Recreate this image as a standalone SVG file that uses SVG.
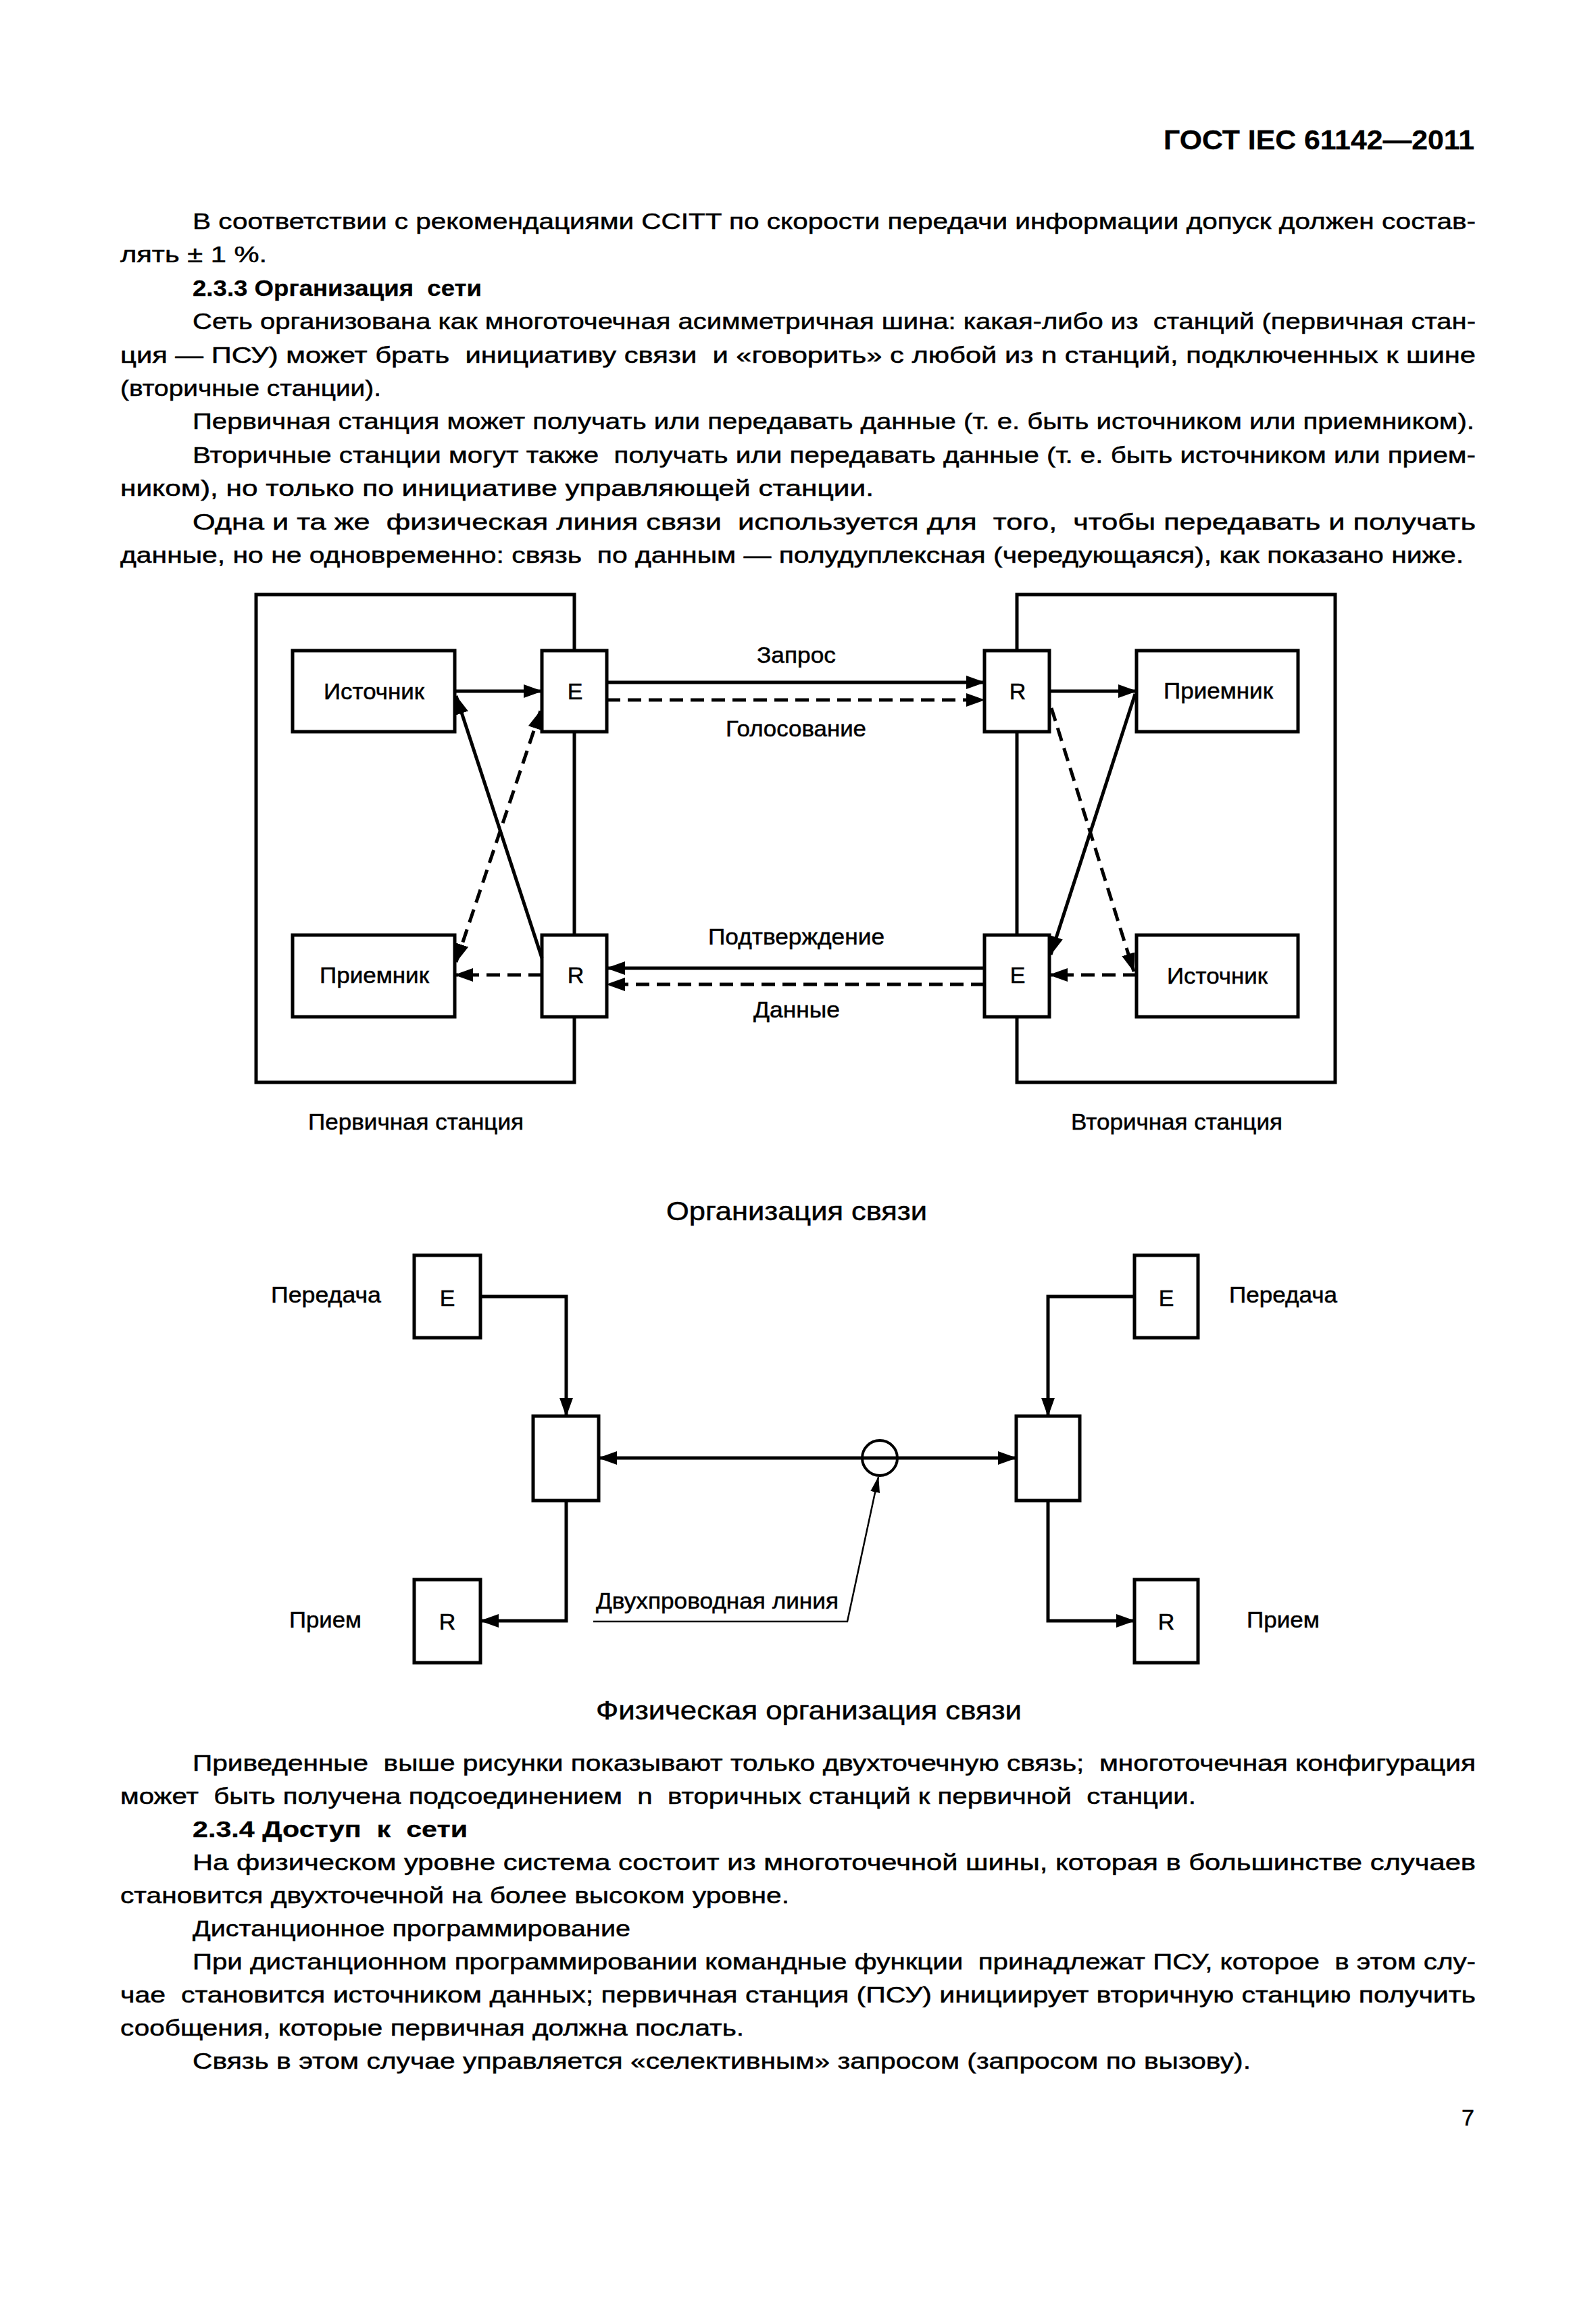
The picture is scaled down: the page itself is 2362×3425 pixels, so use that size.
<svg xmlns="http://www.w3.org/2000/svg" width="2362" height="3425" viewBox="0 0 2362 3425">
<style>
.t{font-family:"Liberation Sans",Arial,sans-serif;font-size:34px;fill:#000;stroke:#000;stroke-width:0.5}
.b{font-weight:bold;stroke-width:0.3}
.c{text-anchor:middle}
.h{font-size:38px}
.box{fill:#fff;stroke:#000;stroke-width:5}
.frame{fill:none;stroke:#000;stroke-width:5}
.ln{fill:none;stroke:#000;stroke-width:5}
.dash{stroke-dasharray:20 11}
.thin{fill:none;stroke:#000;stroke-width:2.5}
</style>
<defs>
<marker id="ah" markerUnits="userSpaceOnUse" markerWidth="28" markerHeight="20" viewBox="0 0 28 20" refX="27" refY="10" orient="auto-start-reverse"><path d="M0,0 L28,10 L0,20 z" fill="#000"/></marker>
<marker id="ahs" markerUnits="userSpaceOnUse" markerWidth="24" markerHeight="14" viewBox="0 0 24 14" refX="23" refY="7" orient="auto"><path d="M0,0 L24,7 L0,14 z" fill="#000"/></marker>
</defs>
<rect width="2362" height="3425" fill="#fff"/>

<g id="page-header">
<text class="t b" x="1722" y="221" style="font-size:40px" textLength="460" lengthAdjust="spacingAndGlyphs">ГОСТ IEC 61142—2011</text>
</g>

<g id="text-top">
<text class="t" x="285" y="339" textLength="1899" lengthAdjust="spacingAndGlyphs">В соответствии с рекомендациями CCITT по скорости передачи информации допуск должен состав-</text>
<text class="t" x="178" y="388" textLength="217" lengthAdjust="spacingAndGlyphs">лять ± 1 %.</text>
<text class="t b" x="285" y="438" textLength="428" lengthAdjust="spacingAndGlyphs" xml:space="preserve">2.3.3 Организация  сети</text>
<text class="t" x="285" y="487" textLength="1899" lengthAdjust="spacingAndGlyphs" xml:space="preserve">Сеть организована как многоточечная асимметричная шина: какая-либо из  станций (первичная стан-</text>
<text class="t" x="178" y="537" textLength="2006" lengthAdjust="spacingAndGlyphs" xml:space="preserve">ция — ПСУ) может брать  инициативу связи  и «говорить» с любой из n станций, подключенных к шине</text>
<text class="t" x="178" y="586" textLength="386" lengthAdjust="spacingAndGlyphs">(вторичные станции).</text>
<text class="t" x="285" y="635" textLength="1897" lengthAdjust="spacingAndGlyphs">Первичная станция может получать или передавать данные (т. е. быть источником или приемником).</text>
<text class="t" x="285" y="685" textLength="1899" lengthAdjust="spacingAndGlyphs" xml:space="preserve">Вторичные станции могут также  получать или передавать данные (т. е. быть источником или прием-</text>
<text class="t" x="178" y="734" textLength="1115" lengthAdjust="spacingAndGlyphs">ником), но только по инициативе управляющей станции.</text>
<text class="t" x="285" y="784" textLength="1899" lengthAdjust="spacingAndGlyphs" xml:space="preserve">Одна и та же  физическая линия связи  используется для  того,  чтобы передавать и получать</text>
<text class="t" x="178" y="833" textLength="1988" lengthAdjust="spacingAndGlyphs" xml:space="preserve">данные, но не одновременно: связь  по данным — полудуплексная (чередующаяся), как показано ниже.</text>
</g>

<g id="diagram-1">
<g id="station-primary"><rect class="frame" x="379" y="880" width="471" height="722"/></g>
<g id="station-secondary"><rect class="frame" x="1505" y="880" width="471" height="722"/></g>

<g id="p-source"><rect class="box" x="433" y="963" width="240" height="120"/><text class="t" x="479" y="1035" textLength="149" lengthAdjust="spacingAndGlyphs">Источник</text></g>
<g id="p-e"><rect class="box" x="802" y="963" width="96" height="120"/><text class="t c" x="851" y="1035">E</text></g>
<g id="p-receiver"><rect class="box" x="433" y="1384" width="240" height="121"/><text class="t" x="473" y="1455" textLength="162" lengthAdjust="spacingAndGlyphs">Приемник</text></g>
<g id="p-r"><rect class="box" x="802" y="1384" width="96" height="121"/><text class="t c" x="852" y="1455">R</text></g>

<g id="s-r"><rect class="box" x="1457" y="963" width="96" height="120"/><text class="t c" x="1506" y="1035">R</text></g>
<g id="s-receiver"><rect class="box" x="1682" y="963" width="239" height="120"/><text class="t" x="1722" y="1034" textLength="162" lengthAdjust="spacingAndGlyphs">Приемник</text></g>
<g id="s-e"><rect class="box" x="1457" y="1384" width="96" height="121"/><text class="t c" x="1506" y="1455">E</text></g>
<g id="s-source"><rect class="box" x="1682" y="1384" width="239" height="121"/><text class="t" x="1727" y="1456" textLength="149" lengthAdjust="spacingAndGlyphs">Источник</text></g>

<g id="connectors-1">
<line class="ln" x1="673" y1="1023" x2="802" y2="1023" marker-end="url(#ah)"/>
<line class="ln" x1="898" y1="1010" x2="1457" y2="1010" marker-end="url(#ah)"/>
<line class="ln dash" x1="898" y1="1036" x2="1457" y2="1036" marker-end="url(#ah)"/>
<line class="ln" x1="1553" y1="1023" x2="1682" y2="1023" marker-end="url(#ah)"/>
<line class="ln" x1="1457" y1="1433" x2="898" y2="1433" marker-end="url(#ah)"/>
<line class="ln dash" x1="1457" y1="1457" x2="898" y2="1457" marker-end="url(#ah)"/>
<line class="ln dash" x1="802" y1="1443" x2="673" y2="1443" marker-end="url(#ah)"/>
<line class="ln dash" x1="1682" y1="1443" x2="1553" y2="1443" marker-end="url(#ah)"/>
<line class="ln" x1="802" y1="1418" x2="675" y2="1030" marker-end="url(#ah)"/>
<line class="ln dash" x1="675" y1="1424" x2="800" y2="1052" marker-start="url(#ah)" marker-end="url(#ah)"/>
<line class="ln" x1="1680" y1="1027" x2="1555" y2="1413" marker-end="url(#ah)"/>
<line class="ln dash" x1="1556" y1="1048" x2="1678" y2="1438" marker-end="url(#ah)"/>
</g>

<g id="labels-1">
<text class="t" x="1120" y="981" textLength="117" lengthAdjust="spacingAndGlyphs">Запрос</text>
<text class="t" x="1074" y="1090" textLength="208" lengthAdjust="spacingAndGlyphs">Голосование</text>
<text class="t" x="1048" y="1398" textLength="261" lengthAdjust="spacingAndGlyphs">Подтверждение</text>
<text class="t" x="1115" y="1506" textLength="128" lengthAdjust="spacingAndGlyphs">Данные</text>
<text class="t" x="456" y="1672" textLength="319" lengthAdjust="spacingAndGlyphs">Первичная станция</text>
<text class="t" x="1585" y="1672" textLength="313" lengthAdjust="spacingAndGlyphs">Вторичная станция</text>
<text class="t h" x="986" y="1806" textLength="386" lengthAdjust="spacingAndGlyphs">Организация связи</text>
</g>
</g>

<g id="diagram-2">
<g id="l-e"><rect class="box" x="613" y="1858" width="98" height="122"/><text class="t c" x="662" y="1933">E</text></g>
<g id="l-r"><rect class="box" x="613" y="2338" width="98" height="123"/><text class="t c" x="662" y="2412">R</text></g>
<g id="l-mid"><rect class="box" x="789" y="2096" width="97" height="125"/></g>
<g id="r-e"><rect class="box" x="1679" y="1858" width="94" height="122"/><text class="t c" x="1726" y="1933">E</text></g>
<g id="r-r"><rect class="box" x="1679" y="2338" width="94" height="123"/><text class="t c" x="1726" y="2412">R</text></g>
<g id="r-mid"><rect class="box" x="1504" y="2096" width="94" height="125"/></g>
<g id="line-node"><circle cx="1302" cy="2158" r="26" fill="none" stroke="#000" stroke-width="4"/></g>

<g id="connectors-2">
<path class="ln" d="M711,1919 H838 V2096" marker-end="url(#ah)"/>
<path class="ln" d="M838,2221 V2399 H711" marker-end="url(#ah)"/>
<path class="ln" d="M1679,1919 H1551 V2096" marker-end="url(#ah)"/>
<path class="ln" d="M1551,2221 V2399 H1679" marker-end="url(#ah)"/>
<line class="ln" x1="886" y1="2158" x2="1504" y2="2158" marker-start="url(#ah)" marker-end="url(#ah)"/>
<path class="thin" d="M878,2400 H1254 L1300,2186" marker-end="url(#ahs)"/>
</g>

<g id="labels-2">
<text class="t" x="401" y="1928" textLength="163" lengthAdjust="spacingAndGlyphs">Передача</text>
<text class="t" x="1819" y="1928" textLength="160" lengthAdjust="spacingAndGlyphs">Передача</text>
<text class="t" x="428" y="2409" textLength="107" lengthAdjust="spacingAndGlyphs">Прием</text>
<text class="t" x="1845" y="2409" textLength="108" lengthAdjust="spacingAndGlyphs">Прием</text>
<text class="t" x="882" y="2381" textLength="359" lengthAdjust="spacingAndGlyphs">Двухпроводная линия</text>
<text class="t h" x="882" y="2545" textLength="630" lengthAdjust="spacingAndGlyphs">Физическая организация связи</text>
</g>
</g>

<g id="text-bottom">
<text class="t" x="285" y="2621" textLength="1899" lengthAdjust="spacingAndGlyphs" xml:space="preserve">Приведенные  выше рисунки показывают только двухточечную связь;  многоточечная конфигурация</text>
<text class="t" x="178" y="2670" textLength="1592" lengthAdjust="spacingAndGlyphs" xml:space="preserve">может  быть получена подсоединением  n  вторичных станций к первичной  станции.</text>
<text class="t b" x="285" y="2719" textLength="407" lengthAdjust="spacingAndGlyphs" xml:space="preserve">2.3.4 Доступ  к  сети</text>
<text class="t" x="285" y="2768" textLength="1899" lengthAdjust="spacingAndGlyphs">На физическом уровне система состоит из многоточечной шины, которая в большинстве случаев</text>
<text class="t" x="178" y="2817" textLength="990" lengthAdjust="spacingAndGlyphs">становится двухточечной на более высоком уровне.</text>
<text class="t" x="285" y="2866" textLength="648" lengthAdjust="spacingAndGlyphs">Дистанционное программирование</text>
<text class="t" x="285" y="2915" textLength="1899" lengthAdjust="spacingAndGlyphs" xml:space="preserve">При дистанционном программировании командные функции  принадлежат ПСУ, которое  в этом слу-</text>
<text class="t" x="178" y="2964" textLength="2006" lengthAdjust="spacingAndGlyphs" xml:space="preserve">чае  становится источником данных; первичная станция (ПСУ) инициирует вторичную станцию получить</text>
<text class="t" x="178" y="3013" textLength="923" lengthAdjust="spacingAndGlyphs">сообщения, которые первичная должна послать.</text>
<text class="t" x="285" y="3062" textLength="1566" lengthAdjust="spacingAndGlyphs">Связь в этом случае управляется «селективным» запросом (запросом по вызову).</text>
<text class="t" x="2182" y="3146" text-anchor="end">7</text>
</g>
</svg>
